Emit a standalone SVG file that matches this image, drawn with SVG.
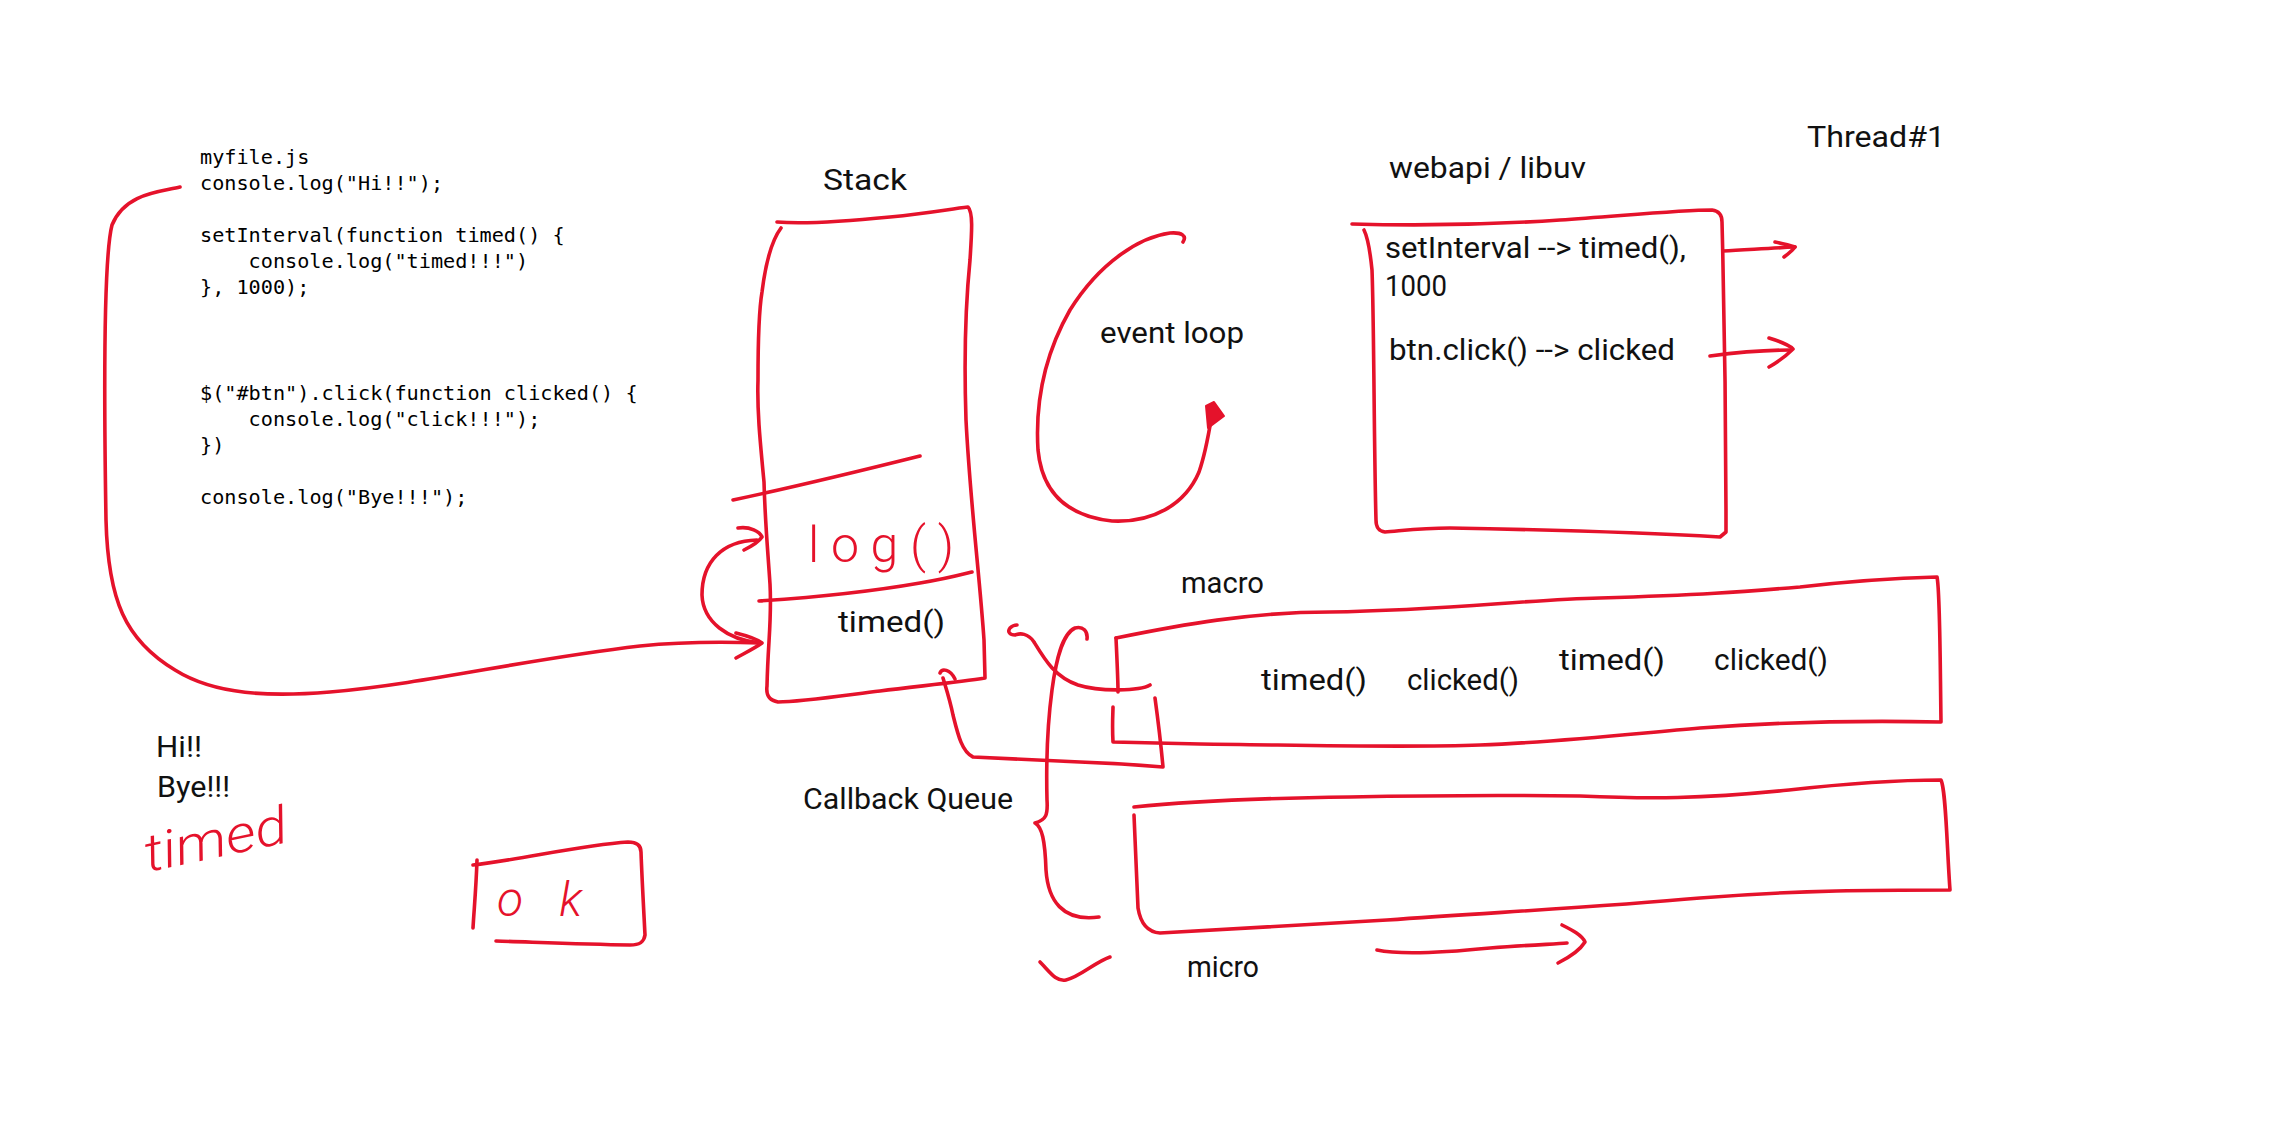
<svg xmlns="http://www.w3.org/2000/svg" width="2290" height="1148" viewBox="0 0 2290 1148">
<style>
.ink{fill:none;stroke:#E5122B;stroke-width:3.6;stroke-linecap:round;stroke-linejoin:round}
.code{font-family:"DejaVu Sans Mono","Liberation Mono",monospace;font-size:20.2px;fill:#000}
.hand{font-family:Roboto,"Open Sans","DejaVu Sans",sans-serif;font-size:30px;fill:#111}
.redhand{font-family:Roboto,"Open Sans","DejaVu Sans",sans-serif;fill:#E5122B;font-weight:300}
</style>
<rect width="2290" height="1148" fill="#fff"/>

<g id="code">
<text class="code" x="200" y="164">myfile.js</text>
<text class="code" x="200" y="190">console.log("Hi!!");</text>
<text class="code" x="200" y="242">setInterval(function timed() {</text>
<text class="code" x="248.6" y="268">console.log("timed!!!")</text>
<text class="code" x="200" y="294">}, 1000);</text>
<text class="code" x="200" y="400">$("#btn").click(function clicked() {</text>
<text class="code" x="248.6" y="426">console.log("click!!!");</text>
<text class="code" x="200" y="452">})</text>
<text class="code" x="200" y="504">console.log("Bye!!!");</text>
</g>

<g id="stack">
<text class="hand" x="823" y="190" textLength="84" lengthAdjust="spacingAndGlyphs">Stack</text>
<path class="ink" d="M777,222 C800,224 850,221 890,217 C930,213 950,209 968,207 C973,212 972,230 970,260 C966,300 964,360 966,420 C970,500 980,580 984,640 L985,678 C960,682 920,686 880,691 C840,696 800,702 778,702 C768,700 766,694 767,686 C768,640 772,620 770,584 C767,540 765,520 764,482 C760,440 757,410 758,380 C758,330 759,310 762,292 C766,260 772,240 781,228"/>
<path class="ink" d="M733,500 C780,490 840,476 920,456"/>
<path class="ink" d="M759,601 C820,597 880,590 920,583 C945,579 960,575 972,572"/>
<text class="redhand" x="808" y="562" font-size="50" textLength="146" lengthAdjust="spacing">log()</text>
<text class="hand" x="838" y="632" textLength="107" lengthAdjust="spacingAndGlyphs">timed()</text>
</g>

<g id="event-loop">
<path class="ink" d="M1183,242 C1187,236 1182,232 1170,233 C1140,237 1100,262 1070,310 C1046,352 1035,400 1038,450 C1042,492 1066,516 1112,521 C1152,523 1185,505 1199,472 C1206,452 1209,432 1212,414"/>
<path d="M1206,406 L1214,402 L1224,416 L1208,428 Z" fill="#E5122B" stroke="#E5122B" stroke-width="2" stroke-linejoin="round"/>
<text class="hand" x="1100" y="343" textLength="144" lengthAdjust="spacingAndGlyphs">event loop</text>
</g>

<g id="webapi">
<text class="hand" x="1389" y="178" textLength="197" lengthAdjust="spacingAndGlyphs">webapi / libuv</text>
<path class="ink" d="M1352,224 C1420,226 1500,224 1560,220 C1620,216 1680,210 1712,210 C1720,211 1722,216 1722,222 C1724,300 1726,450 1726,532 L1720,537 C1650,533 1560,530 1450,528 C1420,528 1400,531 1385,532 C1378,531 1376,527 1376,520 C1374,450 1374,320 1372,270 C1370,250 1368,238 1364,230"/>
<text class="hand" x="1385" y="258" textLength="301" lengthAdjust="spacingAndGlyphs">setInterval --&gt; timed(),</text>
<text class="hand" x="1385" y="296" textLength="62" lengthAdjust="spacingAndGlyphs">1000</text>
<text class="hand" x="1389" y="360" textLength="286" lengthAdjust="spacingAndGlyphs">btn.click() --&gt; clicked</text>
</g>

<g id="thread">
<text class="hand" x="1807" y="147" textLength="138" lengthAdjust="spacingAndGlyphs">Thread#1</text>
</g>

<g id="macro">
<text class="hand" x="1181" y="593" textLength="83" lengthAdjust="spacingAndGlyphs">macro</text>
<path class="ink" d="M1116,638 C1180,625 1250,612 1330,612 C1450,610 1520,600 1600,598 C1700,595 1740,592 1800,587 C1860,580 1900,578 1937,577 C1940,590 1940,650 1941,722 C1850,720 1780,722 1700,728 C1620,735 1560,742 1480,745 C1400,748 1300,745 1200,744 L1113,742 C1112,725 1113,712 1113,707"/>
<path class="ink" d="M1116,638 C1117,660 1118,680 1118,692"/>
<text class="hand" x="1261" y="690" textLength="106" lengthAdjust="spacingAndGlyphs">timed()</text>
<text class="hand" x="1407" y="690" textLength="112" lengthAdjust="spacingAndGlyphs">clicked()</text>
<text class="hand" x="1559" y="670" textLength="106" lengthAdjust="spacingAndGlyphs">timed()</text>
<text class="hand" x="1714" y="670" textLength="114" lengthAdjust="spacingAndGlyphs">clicked()</text>
</g>

<g id="callback-queue">
<text class="hand" x="803" y="809" textLength="210" lengthAdjust="spacingAndGlyphs">Callback Queue</text>
<path class="ink" d="M1087,639 C1088,631 1083,626 1075,628 C1062,634 1056,660 1052,690 C1048,720 1046,760 1047,800 C1048,815 1046,820 1035,823 C1042,827 1045,840 1046,870 C1048,900 1062,922 1099,917"/>
</g>

<g id="micro">
<path class="ink" d="M1134,807 C1200,800 1272,798 1350,797 C1450,795 1502,795 1580,796 C1650,799 1700,799 1789,790 C1860,782 1900,780 1941,780 C1946,790 1947,850 1950,890 C1880,890 1800,890 1700,898 C1600,907 1500,912 1387,920 C1300,925 1220,930 1160,933 C1145,932 1140,920 1138,908 L1134,815"/>
<text class="hand" x="1187" y="977" textLength="72" lengthAdjust="spacingAndGlyphs">micro</text>
<path class="ink" d="M1040,962 C1050,972 1056,982 1066,980 C1080,977 1095,962 1110,957"/>
</g>

<g id="output">
<text class="hand" x="156" y="757" textLength="46" lengthAdjust="spacingAndGlyphs">Hi!!</text>
<text class="hand" x="157" y="797" textLength="73" lengthAdjust="spacingAndGlyphs">Bye!!!</text>
<text class="redhand" x="148" y="872" font-size="52" font-style="italic" textLength="145" lengthAdjust="spacingAndGlyphs" transform="rotate(-12 148 872)">timed</text>
</g>

<g id="ok-box">
<path class="ink" d="M477,860 C476,890 474,910 473,928"/>
<path class="ink" d="M473,865 C520,860 580,845 628,842 C638,842 641,846 641,852 C642,880 644,915 645,935 C644,942 640,945 630,945 C580,944 530,942 496,941"/>
<text class="redhand" x="497" y="916" font-size="48" font-style="italic" textLength="85" lengthAdjust="spacing">ok</text>
</g>

<g id="connectors">
<path class="ink" d="M180,187 C160,192 125,193 112,225 C103,260 104,400 106,520 C108,600 125,640 175,670 C215,695 270,697 330,692 C430,683 520,660 640,646 C690,641 730,642 760,643"/>
<path class="ink" d="M736,633 C748,636 758,640 762,643 C755,648 745,653 736,658"/>
<path class="ink" d="M757,540 C722,541 702,562 702,595 C703,622 728,640 760,643"/>
<path class="ink" d="M738,528 C750,526 760,532 762,537 C758,543 750,547 744,550"/>
<path class="ink" d="M1723,251 C1745,250 1770,248 1795,247"/>
<path class="ink" d="M1775,242 C1785,244 1792,246 1795,247 C1792,251 1788,254 1784,257"/>
<path class="ink" d="M1710,356 C1740,352 1765,350 1791,350"/>
<path class="ink" d="M1769,338 C1782,342 1790,346 1793,349 C1786,356 1778,362 1769,367"/>
<path class="ink" d="M1150,685 C1140,691 1100,692 1078,685 C1055,677 1045,660 1034,642 C1028,633 1020,633 1015,635 C1010,635 1007,632 1010,628 C1012,626 1015,625 1017,625"/>
<path class="ink" d="M1155,698 C1158,720 1161,745 1163,767 C1140,765 1110,763 1080,762 C1040,760 1000,758 973,757 C962,752 958,735 953,715 C950,700 946,688 943,678"/>
<path class="ink" d="M940,673 C942,668 950,669 955,679"/>
<path class="ink" d="M1377,950 C1400,955 1440,953 1490,948 C1530,945 1555,944 1567,943"/>
<path class="ink" d="M1562,925 C1572,930 1582,935 1585,942 C1580,950 1570,957 1558,963"/>
</g>
</svg>
